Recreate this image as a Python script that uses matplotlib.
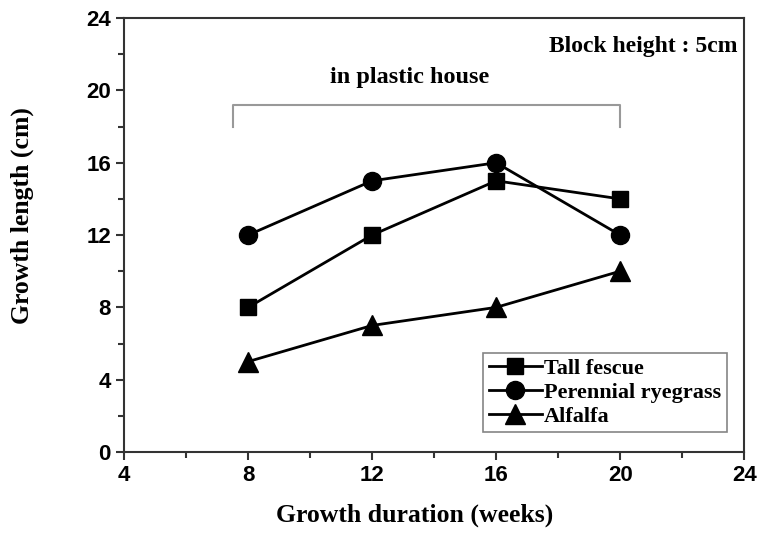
import matplotlib
matplotlib.use("Agg")
import matplotlib.pyplot as plt
from matplotlib.ticker import MultipleLocator

weeks = [8, 12, 16, 20]
tall_fescue = [8, 12, 15, 14]
perennial_ryegrass = [12, 15, 16, 12]
alfalfa = [5, 7, 8, 10]
x_ticks = [4, 8, 12, 16, 20, 24]
y_ticks = [0, 4, 8, 12, 16, 20, 24]

serif = "Liberation Serif"
sans = "Liberation Sans"

fig = plt.figure(figsize=(7.57, 5.33), dpi=100)
ax = fig.add_axes([0.164, 0.152, 0.819, 0.814])

ax.plot(weeks, tall_fescue, color="black", lw=2, marker="s", ms=11, label="Tall fescue")
ax.plot(weeks, perennial_ryegrass, color="black", lw=2, marker="o", ms=13, label="Perennial ryegrass")
ax.plot(weeks, alfalfa, color="black", lw=2, marker="^", ms=14, label="Alfalfa")

ax.set_xlim(4, 24)
ax.set_ylim(0, 24)
ax.set_xticks(x_ticks)
ax.set_yticks(y_ticks)
ax.xaxis.set_minor_locator(MultipleLocator(2))
ax.yaxis.set_minor_locator(MultipleLocator(2))
ax.tick_params(which="both", direction="out", width=1.5, colors="#333333")
ax.tick_params(which="major", length=6, labelsize=16)
ax.tick_params(which="minor", length=4)
for lab in ax.get_xticklabels() + ax.get_yticklabels():
    lab.set_fontfamily(sans)
    lab.set_fontweight("bold")
    lab.set_color("black")
for sp in ax.spines.values():
    sp.set_linewidth(1.5)
    sp.set_color("#333333")

ax.set_xlabel("Growth duration (weeks)", fontfamily=serif, fontweight="bold", fontsize=18.5)
ax.set_ylabel("Growth length (cm)", fontfamily=serif, fontweight="bold", fontsize=18.5)
ax.xaxis.set_label_coords(0.468, -0.118)
ax.yaxis.set_label_coords(-0.146, 0.544)

# bracket spanning the plastic-house period
ax.plot([7.5, 7.5, 20, 20], [18.0, 19.2, 19.2, 18.0], color="#999999", lw=1.5)
ax.text(13.2, 20.7, "in plastic house", ha="center", va="center",
        fontfamily=serif, fontweight="bold", fontsize=17.5)
ax.text(23.8, 22.45, "Block height : 5cm", ha="right", va="center",
        fontfamily=serif, fontweight="bold", fontsize=17)

leg = ax.legend(loc="lower right", bbox_to_anchor=(0.99, 0.02), fancybox=False,
                prop={"family": serif, "weight": "bold", "size": 16},
                handlelength=2.4, handletextpad=0.1, borderpad=0.25, labelspacing=0.15)
leg.get_frame().set_edgecolor("#666666")
leg.get_frame().set_linewidth(1.2)

fig.savefig("out.png", dpi=100)
